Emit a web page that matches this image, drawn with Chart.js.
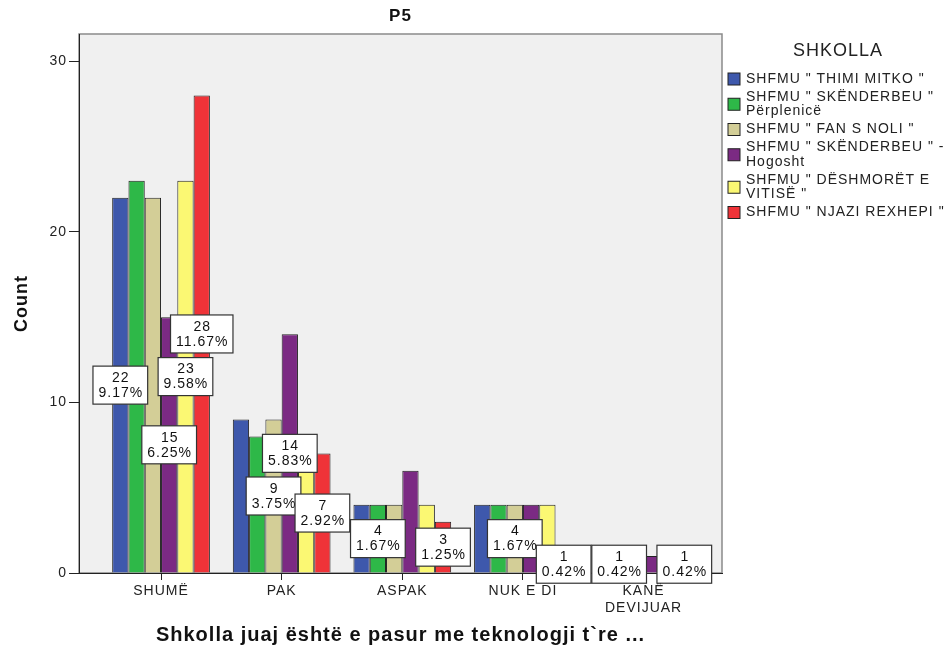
<!DOCTYPE html>
<html>
<head>
<meta charset="utf-8">
<script src="https://cdn.jsdelivr.net/npm/chart.js@4.4.1/dist/chart.umd.min.js"></script>
<style>
  html, body { margin: 0; padding: 0; background: #fff; }
  #wrap { width: 947px; height: 650px; }
</style>
</head>
<body>
<div id="wrap"><canvas id="chart" width="947" height="650"></canvas></div>
<script>
// --- Data ---
const categories = ['SHUMË', 'PAK', 'ASPAK', 'NUK E DI', ['KANË', 'DEVIJUAR']];
const schoolLabels = [
    ['SHFMU " THIMI MITKO "'],
    ['SHFMU " SKËNDERBEU "', 'Përplenicë'],
    ['SHFMU " FAN S NOLI "'],
    ['SHFMU " SKËNDERBEU " -', 'Hogosht'],
    ['SHFMU " DËSHMORËT E', 'VITISË "'],
    ['SHFMU " NJAZI REXHEPI "']
];
const thimiMitko = [22, 9, 4, 4, 1];
const skenderbeuPerplenice = [23, 8, 4, 4, 1];
const fanSNoli = [22, 9, 4, 4, 1];
const skenderbeuHogosht = [15, 14, 6, 4, 1];
const deshmoretVitise = [23, 8, 4, 4, 1];
const njaziRexhepi = [28, 7, 3, 1, 1];
const seriesValues = [thimiMitko, skenderbeuPerplenice, fanSNoli, skenderbeuHogosht, deshmoretVitise, njaziRexhepi];
const totalN = 240;
const yTicks = [0, 10, 20, 30];
// bars that carry a count / percent label: [series, category]
const labelledBars = [[0, 0], [3, 0], [4, 0], [5, 0], [2, 1], [3, 1], [5, 1], [1, 2], [5, 2], [2, 3], [5, 3], [1, 4], [5, 4]];

const seriesColors = ['#3e58ac', '#2eb848', '#d3ce97', '#7b2a83', '#fbf873', '#ef3338'];
const FONT = '"Liberation Sans", Arial, sans-serif';
Chart.defaults.font.family = FONT;

// Plot background, border and global letter spacing
const plotBackground = {
    id: 'plotBackground',
    beforeDraw(chart) {
        const { ctx, chartArea: a } = chart;
        ctx.letterSpacing = '1px';
        ctx.save();
        ctx.fillStyle = '#f0f0f0';
        ctx.fillRect(a.left, a.top, a.right - a.left, a.bottom - a.top);
        ctx.strokeStyle = '#8a8a8a';
        ctx.lineWidth = 1.5;
        ctx.strokeRect(a.left, a.top, a.right - a.left, a.bottom - a.top);
        ctx.restore();
    }
};

// Count / percent boxes centred on the bars
const barLabels = {
    id: 'barLabels',
    afterDatasetsDraw(chart) {
        const ctx = chart.ctx;
        ctx.save();
        ctx.font = '14px ' + FONT;
        ctx.letterSpacing = '1px';
        ctx.textAlign = 'center';
        ctx.textBaseline = 'middle';
        labelledBars.forEach(([s, i]) => {
            const bar = chart.getDatasetMeta(s).data[i];
            const v = seriesValues[s][i];
            const pct = (v / totalN * 100).toFixed(2) + '%';
            const cx = bar.x, cy = (bar.y + bar.base) / 2;
            const w = Math.max(ctx.measureText(String(v)).width, ctx.measureText(pct).width) + 10;
            const h = 38;
            ctx.fillStyle = '#fff';
            ctx.fillRect(cx - w / 2, cy - h / 2, w, h);
            ctx.strokeStyle = '#333';
            ctx.lineWidth = 1.2;
            ctx.strokeRect(cx - w / 2, cy - h / 2, w, h);
            ctx.fillStyle = '#111';
            ctx.fillText(String(v), cx + 0.5, cy - 7);
            ctx.fillText(pct, cx + 0.5, cy + 8);
        });
        ctx.restore();
    }
};

// Legend on the right, with wrapped entries
const sideLegend = {
    id: 'sideLegend',
    afterDraw(chart) {
        const ctx = chart.ctx;
        const x0 = chart.chartArea.right + 6;
        ctx.save();
        ctx.letterSpacing = '1px';
        ctx.fillStyle = '#222';
        ctx.textBaseline = 'middle';
        ctx.textAlign = 'center';
        ctx.font = '18px ' + FONT;
        ctx.fillText('SHKOLLA', 838, 51);
        ctx.textAlign = 'left';
        ctx.font = '14px ' + FONT;
        const lineH = 14.5, gap = 3.5;
        let y = 79;
        schoolLabels.forEach((lines, s) => {
            const by = y + (lines.length - 1) * lineH / 2;
            ctx.fillStyle = seriesColors[s];
            ctx.fillRect(x0, by - 6, 12, 12);
            ctx.strokeStyle = '#222';
            ctx.lineWidth = 1;
            ctx.strokeRect(x0, by - 6, 12, 12);
            ctx.fillStyle = '#222';
            lines.forEach((t, k) => ctx.fillText(t, x0 + 18, y + k * lineH));
            y += lines.length * lineH + gap;
        });
        ctx.restore();
    }
};

const datasets = seriesValues.map((vals, s) => ({
    label: schoolLabels[s].join(' '),
    data: vals.map((v, i) => ({ x: i, y: v })),
    backgroundColor: seriesColors[s],
    borderColor: '#222',
    borderWidth: 1,
    categoryPercentage: 0.81,
    barPercentage: 1.0
}));

new Chart(document.getElementById('chart'), {
    type: 'bar',
    data: { datasets },
    plugins: [plotBackground, barLabels, sideLegend],
    options: {
        responsive: false,
        animation: false,
        devicePixelRatio: 1,
        layout: { padding: { left: 0, right: 225, top: 0, bottom: 0 } },
        plugins: {
            legend: { display: false },
            tooltip: { enabled: false },
            title: {
                display: true,
                text: 'P5',
                fullSize: false,
                color: '#111',
                font: { size: 17, weight: 'bold' },
                padding: { top: 6, bottom: 7.6 }
            }
        },
        scales: {
            x: {
                type: 'linear',
                min: -0.68,
                max: 4.65,
                offset: false,
                z: 1,
                afterBuildTicks: s => { s.ticks = categories.map((c, i) => ({ value: i })); },
                afterFit: s => { s.height = 77; },
                ticks: {
                    callback: v => categories[v],
                    autoSkip: false,
                    maxRotation: 0,
                    padding: 3,
                    color: '#222',
                    font: { size: 14 }
                },
                grid: { offset: false, drawOnChartArea: false, tickLength: 7, color: '#222' },
                border: { display: true, color: '#222', width: 1 },
                title: {
                    display: true,
                    text: 'Shkolla juaj është e pasur me teknologji t`re ...',
                    color: '#111',
                    font: { size: 20, weight: 'bold' },
                    padding: { top: 0, bottom: 3 }
                }
            },
            y: {
                min: 0,
                max: 31.6,
                afterBuildTicks: s => { s.ticks = yTicks.map(v => ({ value: v })); },
                afterFit: s => { s.width = 79; },
                ticks: { padding: 2, color: '#222', font: { size: 14 } },
                grid: { drawOnChartArea: false, tickLength: 10, color: '#222' },
                border: { display: true, color: '#222', width: 1 },
                title: {
                    display: true,
                    text: 'Count',
                    color: '#111',
                    font: { size: 18, weight: 'bold' },
                    padding: { top: 11, bottom: 0 }
                }
            }
        }
    }
});
</script>
</body>
</html>
